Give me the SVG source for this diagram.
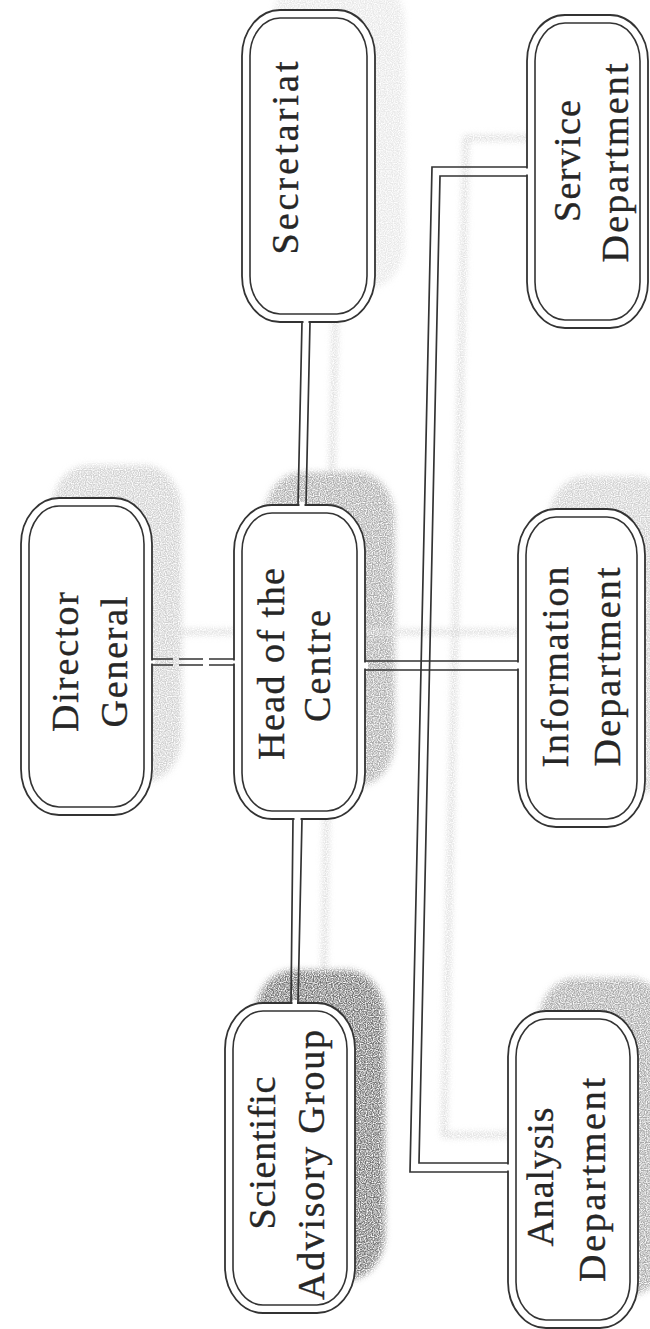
<svg xmlns="http://www.w3.org/2000/svg" width="650" height="1329" viewBox="0 0 650 1329">
<style>
.bo{fill:#fff;stroke:#333;stroke-width:1.8}
.bi{fill:none;stroke:#333;stroke-width:1.6}
.ln{fill:none;stroke:#333;stroke-width:1.7}
.gap{fill:#fff;stroke:none}
.lbl{font-family:"Liberation Serif","DejaVu Serif",serif;font-size:38px;fill:#262626;stroke:#262626;stroke-width:0.35;text-anchor:middle}
.sh{stroke:none}
.shl{fill:none;stroke:#cdcdcd;stroke-width:5}
</style>
<defs>
<filter id="grain" x="-15%" y="-15%" width="130%" height="130%">
<feGaussianBlur in="SourceGraphic" stdDeviation="3" result="b"/>
<feTurbulence type="fractalNoise" baseFrequency="0.85" numOctaves="1" seed="7" result="n"/>
<feColorMatrix in="n" type="matrix" values="0 0 0 0 0 0 0 0 0 0 0 0 0 0 0 0 0 0 2.4 -0.6" result="na"/>
<feComposite in="b" in2="na" operator="in"/>
</filter>
</defs>
<rect width="650" height="1329" fill="#fff"/>
<g id="shadows" filter="url(#grain)" transform="translate(30,-33)">
<rect class="sh" x="242" y="10" width="133" height="312" rx="38" ry="46" fill="#e8e8e8"/>
<rect class="sh" x="21" y="498" width="131" height="317" rx="38" ry="46" fill="#d0d0d0"/>
<rect class="sh" x="234" y="505" width="131" height="314" rx="38" ry="46" fill="#ababab"/>
<rect class="sh" x="518" y="509" width="127" height="318" rx="38" ry="46" fill="#d0d0d0"/>
<rect class="sh" x="225" y="1003" width="130" height="310" rx="38" ry="46" fill="#727272"/>
<rect class="sh" x="508" y="1011" width="130" height="317" rx="38" ry="46" fill="#a8a8a8"/>
<path class="shl" d="M306 322 L302 505"/>
<path class="shl" d="M528 171 L436 171 L414 1168 L508 1168"/>
<path class="shl" d="M152 665 L518 665"/>
<path class="shl" d="M297 819 L294 1003"/>
</g>
<g id="connectors">
<path class="ln" d="M302 322 L298 505 M310 322 L306 505"/>
<path class="ln" d="M528 167 L432 167 L410 1172 L508 1172"/>
<path class="ln" d="M528 176 L440 176 L419 1163 L508 1163"/>
<path class="ln" d="M365 661 L518 661 M365 670 L518 670"/>
<path class="ln" d="M152 659 L173 659 M179 659 L203 659 M209 659 L234 659 M152 665 L173 665 M179 665 L203 665 M209 665 L234 665"/>
<path class="ln" d="M293 819 L291 1003 M302 819 L298 1003"/>
</g>
<g id="n-secretariat">
<rect class="bo" x="242" y="10" width="133" height="312" rx="38" ry="46"/>
<rect class="bi" x="250" y="18" width="117" height="296" rx="30" ry="38"/>
<text class="lbl" transform="translate(298,158) rotate(-90)" textLength="193" lengthAdjust="spacing">Secretariat</text>
</g>
<g id="n-service">
<rect class="bo" x="527" y="15" width="121" height="313" rx="38" ry="46"/>
<rect class="bi" x="535" y="23" width="105" height="297" rx="30" ry="38"/>
<text class="lbl" transform="translate(580,161) rotate(-90)" textLength="122" lengthAdjust="spacing">Service</text>
<text class="lbl" transform="translate(628,163) rotate(-90)" textLength="199" lengthAdjust="spacing">Department</text>
</g>
<g id="n-director">
<rect class="bo" x="21" y="498" width="131" height="317" rx="38" ry="46"/>
<rect class="bi" x="29" y="506" width="115" height="301" rx="30" ry="38"/>
<text class="lbl" transform="translate(78,662) rotate(-90)" textLength="140" lengthAdjust="spacing">Director</text>
<text class="lbl" transform="translate(127,662) rotate(-90)" textLength="131" lengthAdjust="spacing">General</text>
</g>
<g id="n-head">
<rect class="bo" x="234" y="505" width="131" height="314" rx="38" ry="46"/>
<rect class="bi" x="242" y="513" width="115" height="298" rx="30" ry="38"/>
<text class="lbl" transform="translate(284,664) rotate(-90)" textLength="192" lengthAdjust="spacing">Head of the</text>
<text class="lbl" transform="translate(330,666) rotate(-90)" textLength="112" lengthAdjust="spacing">Centre</text>
</g>
<g id="n-information">
<rect class="bo" x="518" y="509" width="127" height="318" rx="38" ry="46"/>
<rect class="bi" x="526" y="517" width="111" height="302" rx="30" ry="38"/>
<text class="lbl" transform="translate(568,667) rotate(-90)" textLength="201" lengthAdjust="spacing">Information</text>
<text class="lbl" transform="translate(620,667) rotate(-90)" textLength="199" lengthAdjust="spacing">Department</text>
</g>
<g id="n-scientific">
<rect class="bo" x="225" y="1003" width="130" height="310" rx="38" ry="46"/>
<rect class="bi" x="233" y="1011" width="114" height="294" rx="30" ry="38"/>
<text class="lbl" transform="translate(275,1153) rotate(-90)" textLength="153" lengthAdjust="spacing">Scientific</text>
<text class="lbl" transform="translate(324,1165) rotate(-90)" textLength="270" lengthAdjust="spacing">Advisory Group</text>
</g>
<g id="n-analysis">
<rect class="bo" x="508" y="1011" width="130" height="317" rx="38" ry="46"/>
<rect class="bi" x="516" y="1019" width="114" height="301" rx="30" ry="38"/>
<text class="lbl" transform="translate(553,1177) rotate(-90)" textLength="139" lengthAdjust="spacing">Analysis</text>
<text class="lbl" transform="translate(605,1180) rotate(-90)" textLength="204" lengthAdjust="spacing">Department</text>
</g>
<g id="joins">
<rect class="gap" x="303.5" y="319" width="5" height="6"/>
<rect class="gap" x="299.5" y="502" width="5" height="6"/>
<rect class="gap" x="524" y="168.5" width="6" height="6"/>
<rect class="gap" x="505" y="1164.5" width="6" height="6"/>
<rect class="gap" x="362" y="662.5" width="6" height="6"/>
<rect class="gap" x="515" y="662.5" width="6" height="6"/>
<rect class="gap" x="149" y="660.5" width="6" height="3"/>
<rect class="gap" x="231" y="660.5" width="6" height="3"/>
<rect class="gap" x="294.5" y="816" width="6" height="6"/>
<rect class="gap" x="292.5" y="1000" width="4.5" height="6"/>
</g>
</svg>
